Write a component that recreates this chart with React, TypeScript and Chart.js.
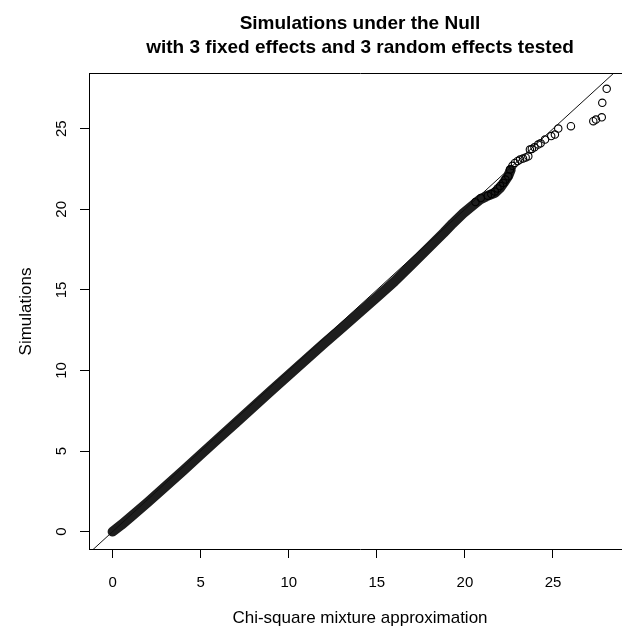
import React, { useEffect, useRef } from "react";
import { Chart, registerables } from "chart.js";
Chart.register(...registerables);

const titleLines = ["Simulations under the Null", "with 3 fixed effects and 3 random effects tested"];
const xTitle = "Chi-square mixture approximation";
const yTitle = "Simulations";
const xTicks = [0, 5, 10, 15, 20, 25];
const yTicks = [0, 5, 10, 15, 20, 25];

// dense band of overlapping points
const bandX = [0.0, 0.5, 1, 2, 3, 4, 5, 6, 7, 8, 9, 10, 11, 12, 13, 14, 15, 16, 17, 18, 18.8, 19.3, 19.9, 20.4, 20.85, 21.2, 21.7, 22.0, 22.2, 22.45, 22.6];
const bandY = [0.0, 0.42, 0.88, 1.82, 2.8, 3.78, 4.78, 5.77, 6.76, 7.75, 8.74, 9.72, 10.7, 11.67, 12.62, 13.58, 14.54, 15.52, 16.6, 17.68, 18.55, 19.12, 19.75, 20.2, 20.6, 20.8, 21.02, 21.33, 21.64, 22.05, 22.45];

// individually visible circles in the upper tail
const tailX = [20.6, 20.9, 21.3, 21.5, 21.7, 21.85, 22.0, 22.18, 22.3, 22.46, 22.56, 22.7, 22.84, 23.0, 23.13, 23.3, 23.45, 23.6, 23.69, 23.8, 23.95, 24.16, 24.3, 24.55, 24.9, 25.11, 25.3, 26.02, 27.29, 27.44, 27.77, 27.8, 28.05];
const tailY = [20.45, 20.7, 20.85, 20.95, 21.1, 21.3, 21.45, 21.64, 21.85, 22.05, 22.47, 22.7, 22.88, 23.0, 23.09, 23.15, 23.22, 23.29, 23.71, 23.75, 23.85, 24.02, 24.1, 24.33, 24.55, 24.64, 25.01, 25.16, 25.47, 25.57, 25.71, 26.61, 27.48];

// reference line y = x (abline 0,1)
const refX = [-5, 35];
const refY = [-5, 35];

const X_MIN = -1.34, X_MAX = 29.43, Y_MIN = -1.08, Y_MAX = 28.4;

export default function App() {
  const ref = useRef<HTMLCanvasElement | null>(null);
  useEffect(() => {
    if (!ref.current) return;
    Chart.defaults.font.family = "'Liberation Sans', Arial, Helvetica, sans-serif";
    Chart.defaults.color = "#000";
    const chart = new Chart(ref.current, {
      type: "scatter",
      data: {
        datasets: [
          {
            type: "line",
            data: bandX.map((x, i) => ({ x, y: bandY[i] })),
            borderColor: "#1e1e1e",
            borderWidth: 10,
            borderCapStyle: "round",
            borderJoinStyle: "round",
            pointRadius: 0,
            tension: 0,
            order: 3,
          } as any,
          {
            type: "scatter",
            data: tailX.map((x, i) => ({ x, y: tailY[i] })),
            pointRadius: 3.7,
            pointBorderWidth: 1.1,
            borderColor: "#000",
            backgroundColor: "rgba(0,0,0,0)",
            pointBackgroundColor: "rgba(0,0,0,0)",
            pointBorderColor: "#000",
            order: 2,
          } as any,
          {
            type: "line",
            data: refX.map((x, i) => ({ x, y: refY[i] })),
            borderColor: "#111",
            borderWidth: 1,
            pointRadius: 0,
            clip: 0,
            order: 1,
          } as any,
        ],
      },
      options: {
        responsive: false,
        maintainAspectRatio: false,
        animation: false,
        layout: { padding: { left: 0, right: 29, top: 0, bottom: 0 } },
        plugins: {
          legend: { display: false },
          tooltip: { enabled: false },
          title: {
            display: true,
            text: titleLines,
            fullSize: false,
            color: "#000",
            font: { size: 19, weight: "bold", lineHeight: 1.263 },
            padding: { top: 12, bottom: 14 },
          },
        },
        scales: {
          x: {
            type: "linear",
            position: "bottom",
            min: X_MIN,
            max: X_MAX,
            afterBuildTicks: (s: any) => { s.ticks = xTicks.map((v) => ({ value: v })); },
            afterFit: (s: any) => { s.height = 82; },
            grid: { display: true, drawOnChartArea: false, drawTicks: true, tickLength: 9, color: "#000", tickColor: "#000" },
            border: { display: true, color: "#000", width: 1 },
            ticks: { font: { size: 15 }, color: "#000", padding: 16, maxRotation: 0, autoSkip: false },
            title: { display: true, text: xTitle, font: { size: 17 }, color: "#000", padding: { top: 0, bottom: 2 } },
          },
          x2: {
            type: "linear",
            position: "top",
            min: X_MIN,
            max: X_MAX,
            afterFit: (s: any) => { s.height = 0; },
            grid: { display: false },
            border: { display: true, color: "#000", width: 1 },
            ticks: { display: false },
          },
          y: {
            type: "linear",
            position: "left",
            min: Y_MIN,
            max: Y_MAX,
            afterBuildTicks: (s: any) => { s.ticks = yTicks.map((v) => ({ value: v })); },
            afterFit: (s: any) => { s.width = 89; },
            grid: { display: true, drawOnChartArea: false, drawTicks: true, tickLength: 9, color: "#000", tickColor: "#000" },
            border: { display: true, color: "#000", width: 1 },
            ticks: { font: { size: 15 }, color: "#000", padding: 9.6, minRotation: 90, maxRotation: 90, crossAlign: "center", autoSkip: false },
            title: { display: true, text: yTitle, font: { size: 17 }, color: "#000", padding: { top: 15.8, bottom: 0 } },
          },
        },
      } as any,
    });
    return () => chart.destroy();
  }, []);
  return (
    <div style={{ position: "absolute", left: 0, top: 0, width: 622, height: 631, overflow: "hidden", background: "#fff" }}>
      <canvas ref={ref} width={660} height={631} style={{ width: 660, height: 631, display: "block" }} />
    </div>
  );
}
